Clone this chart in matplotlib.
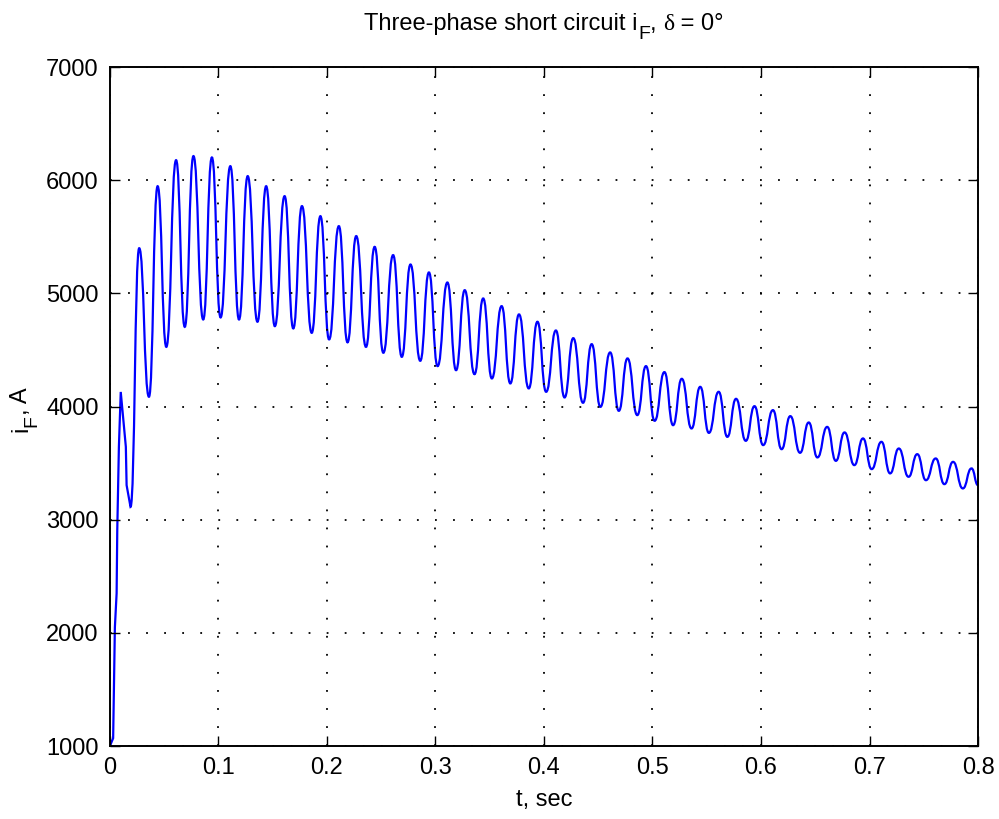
import numpy as np
import matplotlib
matplotlib.use("Agg")
import matplotlib.pyplot as plt
from matplotlib.path import Path
from matplotlib.patches import PathPatch

plt.rcParams['font.family'] = ['Liberation Sans', 'DejaVu Sans']

# start of the transient
t_start = [0.0, 0.003, 0.0046, 0.0062, 0.0068, 0.0083, 0.010, 0.0147, 0.0154]
i_start = [1000, 1070, 2050, 2350, 2910, 3645, 4130, 3645, 3306]

# cycle peaks (after the first one)
t_peaks = [0.027, 0.044, 0.061, 0.077, 0.094, 0.111, 0.127, 0.144, 0.161, 0.177,
           0.194, 0.211, 0.227, 0.244, 0.261, 0.277, 0.294, 0.311, 0.327, 0.344,
           0.361, 0.377, 0.394, 0.411, 0.427, 0.444, 0.461, 0.477, 0.494, 0.511,
           0.527, 0.544, 0.561, 0.577, 0.594, 0.611, 0.627, 0.644, 0.661, 0.677,
           0.694, 0.711, 0.727, 0.744, 0.761, 0.777, 0.794]
i_peaks = [5400, 5948, 6178, 6214, 6202, 6125, 6037, 5948, 5860, 5772,
           5683, 5595, 5507, 5412, 5339, 5256, 5186, 5097, 5029, 4956,
           4888, 4815, 4750, 4673, 4605, 4552, 4479, 4426, 4358, 4305,
           4246, 4175, 4131, 4069, 4004, 3969, 3916, 3860, 3821, 3772,
           3719, 3689, 3630, 3580, 3542, 3512, 3454]

# cycle troughs
t_troughs = [0.019, 0.036, 0.052, 0.069, 0.086, 0.102, 0.119, 0.136, 0.152, 0.169,
             0.186, 0.202, 0.219, 0.236, 0.252, 0.269, 0.286, 0.302, 0.319, 0.336,
             0.352, 0.369, 0.386, 0.402, 0.419, 0.436, 0.452, 0.469, 0.486, 0.502,
             0.519, 0.536, 0.552, 0.569, 0.586, 0.602, 0.619, 0.636, 0.652, 0.669,
             0.686, 0.702, 0.719, 0.736, 0.752, 0.769, 0.786]
i_troughs = [3114, 4087, 4528, 4705, 4770, 4788, 4770, 4750, 4711, 4691,
             4652, 4594, 4568, 4528, 4476, 4440, 4405, 4358, 4322, 4287,
             4249, 4205, 4161, 4131, 4081, 4034, 3998, 3963, 3925, 3875,
             3836, 3807, 3768, 3733, 3698, 3660, 3624, 3592, 3551, 3521,
             3483, 3448, 3410, 3380, 3350, 3315, 3277]

t_end = [0.8]
i_end = [3306]

xticks = [0, 0.1, 0.2, 0.3, 0.4, 0.5, 0.6, 0.7, 0.8]
xticklabels = ['0', '0.1', '0.2', '0.3', '0.4', '0.5', '0.6', '0.7', '0.8']
yticks = [1000, 2000, 3000, 4000, 5000, 6000, 7000]

# extrema of the oscillation, in time order
t_ext = np.concatenate([t_peaks, t_troughs, t_end])
i_ext = np.concatenate([i_peaks, i_troughs, i_end])
order = np.argsort(t_ext)
t_ext, i_ext = t_ext[order], i_ext[order]

# path: straight segments for the first rise, smooth curves between extrema
verts = [(t_start[0], i_start[0])]
codes = [Path.MOVETO]
for tt, ii in zip(t_start[1:], i_start[1:]):
    verts.append((tt, ii))
    codes.append(Path.LINETO)
verts.append((t_troughs[0], i_troughs[0]))
codes.append(Path.LINETO)
prev_t, prev_i = t_troughs[0], i_troughs[0]
for tt, ii in zip(t_ext, i_ext):
    if tt <= prev_t:
        continue
    dt = tt - prev_t
    verts += [(prev_t + 0.5 * dt, prev_i), (tt - 0.5 * dt, ii), (tt, ii)]
    codes += [Path.CURVE4] * 3
    prev_t, prev_i = tt, ii

FS = 17
W, H = 999, 819
fig = plt.figure(figsize=(W / 100, H / 100), dpi=100)
ax = fig.add_axes([0.110, 0.089, 0.869, 0.829])
ax.add_patch(PathPatch(Path(verts, codes), facecolor='none',
                       edgecolor=(0, 0, 1), linewidth=1.6))

ax.set_xlim(0, 0.8)
ax.set_ylim(1000, 7000)
ax.set_xticks(xticks)
ax.set_xticklabels(xticklabels)
ax.set_yticks(yticks)
ax.tick_params(direction='in', top=True, right=True, labelsize=FS,
               length=7, width=1, pad=8)
for s in ax.spines.values():
    s.set_linewidth(1.4)
ax.grid(True, color='black', linestyle=(0, (1, 9)), linewidth=1.3)

ax.set_xlabel('t, sec', fontsize=FS, labelpad=7)

# texts with a subscript F, built piece by piece
renderer = fig.canvas.get_renderer()


def rich(x, y, pieces, rotation=0):
    # pieces: (text, size, drop_px, family)
    made = []
    for txt, size, drop, fam in pieces:
        if rotation == 0:
            t = fig.text(0, 0, txt, fontsize=size, family=fam,
                         ha='left', va='baseline', transform=None)
        else:
            t = fig.text(0, 0, txt, fontsize=size, family=fam, rotation=90,
                         rotation_mode='anchor', ha='left', va='baseline',
                         transform=None)
        made.append((t, drop))
    lens = []
    for t, drop in made:
        bb = t.get_window_extent(renderer)
        lens.append(bb.width if rotation == 0 else bb.height)
    total = sum(lens)
    cur = -total / 2
    for (t, drop), ln in zip(made, lens):
        if rotation == 0:
            t.set_position((x + cur, y - drop))
        else:
            t.set_position((x + drop, y + cur))
        cur += ln


sans = ['Liberation Sans', 'DejaVu Sans']
serif = ['Liberation Serif', 'DejaVu Serif']
rich(544, H - 30, [('Three-phase short circuit i', FS, 0, sans),
                   ('F', FS * 0.82, 9, sans),
                   (', ', FS, 0, sans),
                   ('\u03b4', FS, 0, serif),
                   (' = 0\u00b0', FS, 0, sans)])
rich(27, H - 410, [('i', FS, 0, sans),
                   ('F', FS * 0.82, 9, sans),
                   (', A', FS, 0, sans)], rotation=90)

fig.savefig('out.png', dpi=100)
